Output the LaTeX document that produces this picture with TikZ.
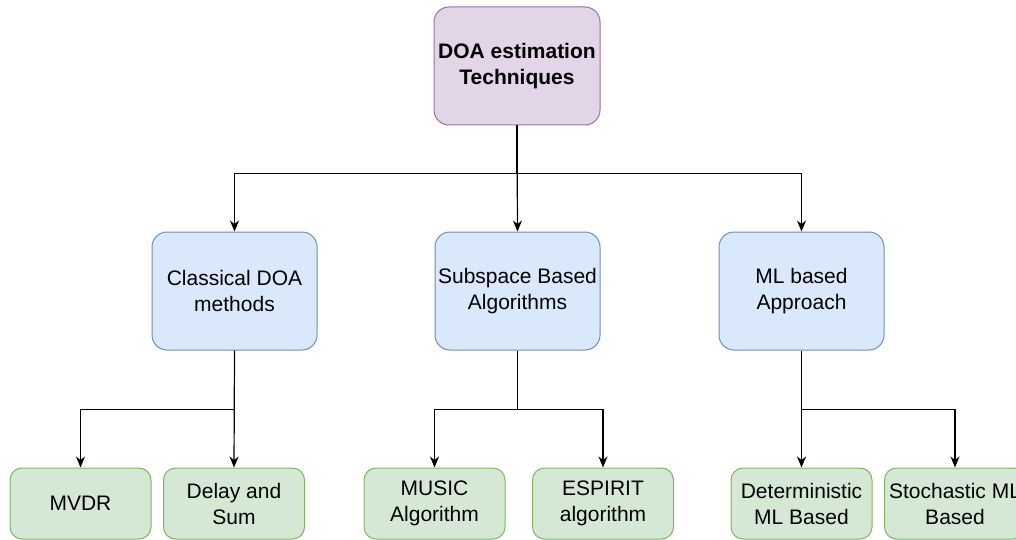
\documentclass[tikz,border=0pt]{standalone}
\usepackage{fontspec}
\setmainfont{Liberation Sans}
\usetikzlibrary{arrows.meta}
\definecolor{rootfill}{HTML}{E1D5E7}
\definecolor{rootline}{HTML}{9673A6}
\definecolor{midfill}{HTML}{DAE8FC}
\definecolor{midline}{HTML}{6C8EBF}
\definecolor{leaffill}{HTML}{D5E8D4}
\definecolor{leafline}{HTML}{82B366}
\begin{document}
\begin{tikzpicture}[x=1pt,y=-1pt,
    >={Stealth[length=11pt,width=9pt]},
    box/.style={draw,line width=1pt,align=center,inner sep=0pt,
      font=\fontsize{21}{26}\selectfont},
    rootbox/.style={box,fill=rootfill,draw=rootline,rounded corners=15pt,
      minimum width=166pt,minimum height=118pt},
    midbox/.style={box,fill=midfill,draw=midline,rounded corners=15pt,
      minimum width=165pt,minimum height=118pt},
    leafbox/.style={box,fill=leaffill,draw=leafline,rounded corners=12pt,
      minimum width=141pt,minimum height=71pt},
    link/.style={->,line width=1.2pt}]
    \useasboundingbox (0,0) rectangle (1016,540);
    % top
    \node [rootbox] (doa) at (517,66) {\textbf{DOA estimation}\\\textbf{Techniques}};
    % middle row
    \node [midbox] (classical) at (234.5,291) {Classical DOA\\methods};
    \node [midbox] (subspace) at (517.5,291) {Subspace Based\\Algorithms};
    \node [midbox] (mlbased) at (801.5,291) {ML based\\Approach};
    % bottom row
    \node [leafbox] (mvdr) at (80.5,503.5) {MVDR};
    \node [leafbox] (delaysum) at (234,503.5) {Delay and\\Sum};
    \node [leafbox] (music) at (434.5,503.5) {MUSIC\\Algorithm};
    \node [leafbox] (espirit) at (603,503.5) {ESPIRIT\\algorithm};
    \node [leafbox] (determ) at (801.5,503.5) {Deterministic\\ML Based};
    \node [leafbox] (stoch) at (955,503.5) {Stochastic ML\\Based};
    % connectors
    \draw [link] (doa.south) -- ++(0,48) -| (classical.north);
    \draw [link] (doa.south) -- (subspace.north);
    \draw [link] (doa.south) -- ++(0,48) -| (mlbased.north);
    \draw [link] (classical.south) -- ++(0,59) -| (mvdr.north);
    \draw [link] (classical.south) -- (delaysum.north);
    \draw [link] (subspace.south) -- ++(0,59) -| (music.north);
    \draw [link] (subspace.south) -- ++(0,59) -| (espirit.north);
    \draw [link] (mlbased.south) -- (determ.north);
    \draw [link] (mlbased.south) -- ++(0,59) -| (stoch.north);
\end{tikzpicture}
\end{document}
